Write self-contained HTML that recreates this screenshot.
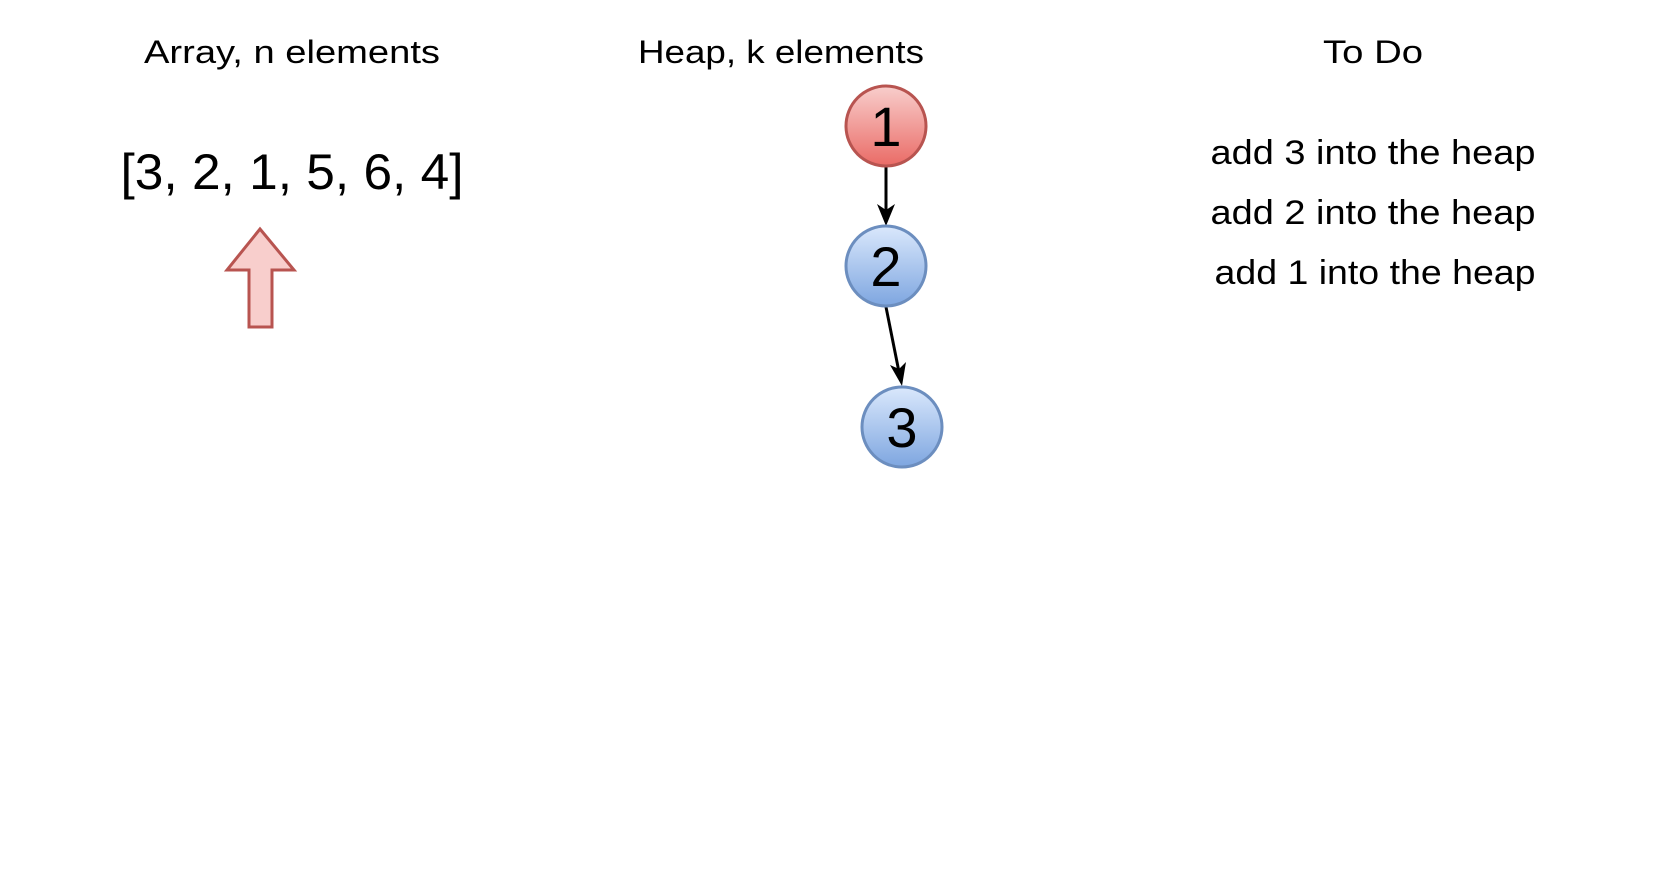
<!DOCTYPE html>
<html><head><meta charset="utf-8"><style>
html,body{margin:0;padding:0;background:#fff;width:1678px;height:890px;overflow:hidden}
svg text{font-family:"Liberation Sans",sans-serif;fill:#000}
</style></head><body>
<svg width="1678" height="890" viewBox="0 0 1678 890">
<defs>
<linearGradient id="gr" x1="0" y1="0" x2="0" y2="1"><stop offset="0" stop-color="#f8cecc"/><stop offset="1" stop-color="#ea6b66"/></linearGradient>
<linearGradient id="gb" x1="0" y1="0" x2="0" y2="1"><stop offset="0" stop-color="#dae8fc"/><stop offset="1" stop-color="#7ea6e0"/></linearGradient>
</defs>
<text x="292" y="63" font-size="32" text-anchor="middle" textLength="296" lengthAdjust="spacingAndGlyphs">Array, n elements</text>
<text x="781" y="63" font-size="32" text-anchor="middle" textLength="286" lengthAdjust="spacingAndGlyphs">Heap, k elements</text>
<text x="1373" y="63" font-size="32" text-anchor="middle" textLength="100" lengthAdjust="spacingAndGlyphs">To Do</text>
<text x="292" y="189" font-size="50" text-anchor="middle" textLength="343" lengthAdjust="spacingAndGlyphs">[3, 2, 1, 5, 6, 4]</text>
<polygon points="260,229 294,270 272,270 272,327 249,327 249,270 227,270" fill="#f8cecc" stroke="#b85450" stroke-width="3"/>
<g>
<line x1="886" y1="167" x2="886" y2="212" stroke="#000" stroke-width="3"/>
<polygon points="886,226 877,204 886,210 895,204" fill="#000"/>
</g>
<g>
<line x1="886" y1="307" x2="899" y2="372" stroke="#000" stroke-width="3"/>
<polygon points="902,386 890,365 899,369 906,362" fill="#000"/>
</g>
<g>
<circle cx="886" cy="126" r="40" fill="url(#gr)" stroke="#b85450" stroke-width="3"/>
<text x="886" y="146" font-size="56" text-anchor="middle">1</text></g>
<g>
<circle cx="886" cy="266" r="40" fill="url(#gb)" stroke="#6c8ebf" stroke-width="3"/>
<text x="886" y="286" font-size="56" text-anchor="middle">2</text></g>
<g>
<circle cx="902" cy="427" r="40" fill="url(#gb)" stroke="#6c8ebf" stroke-width="3"/>
<text x="902" y="447" font-size="56" text-anchor="middle">3</text></g>
<text x="1373" y="164" font-size="34" text-anchor="middle" textLength="325" lengthAdjust="spacingAndGlyphs">add 3 into the heap</text>
<text x="1373" y="224" font-size="34" text-anchor="middle" textLength="325" lengthAdjust="spacingAndGlyphs">add 2 into the heap</text>
<text x="1375" y="284" font-size="34" text-anchor="middle" textLength="321" lengthAdjust="spacingAndGlyphs">add 1 into the heap</text>
</svg>
</body></html>
